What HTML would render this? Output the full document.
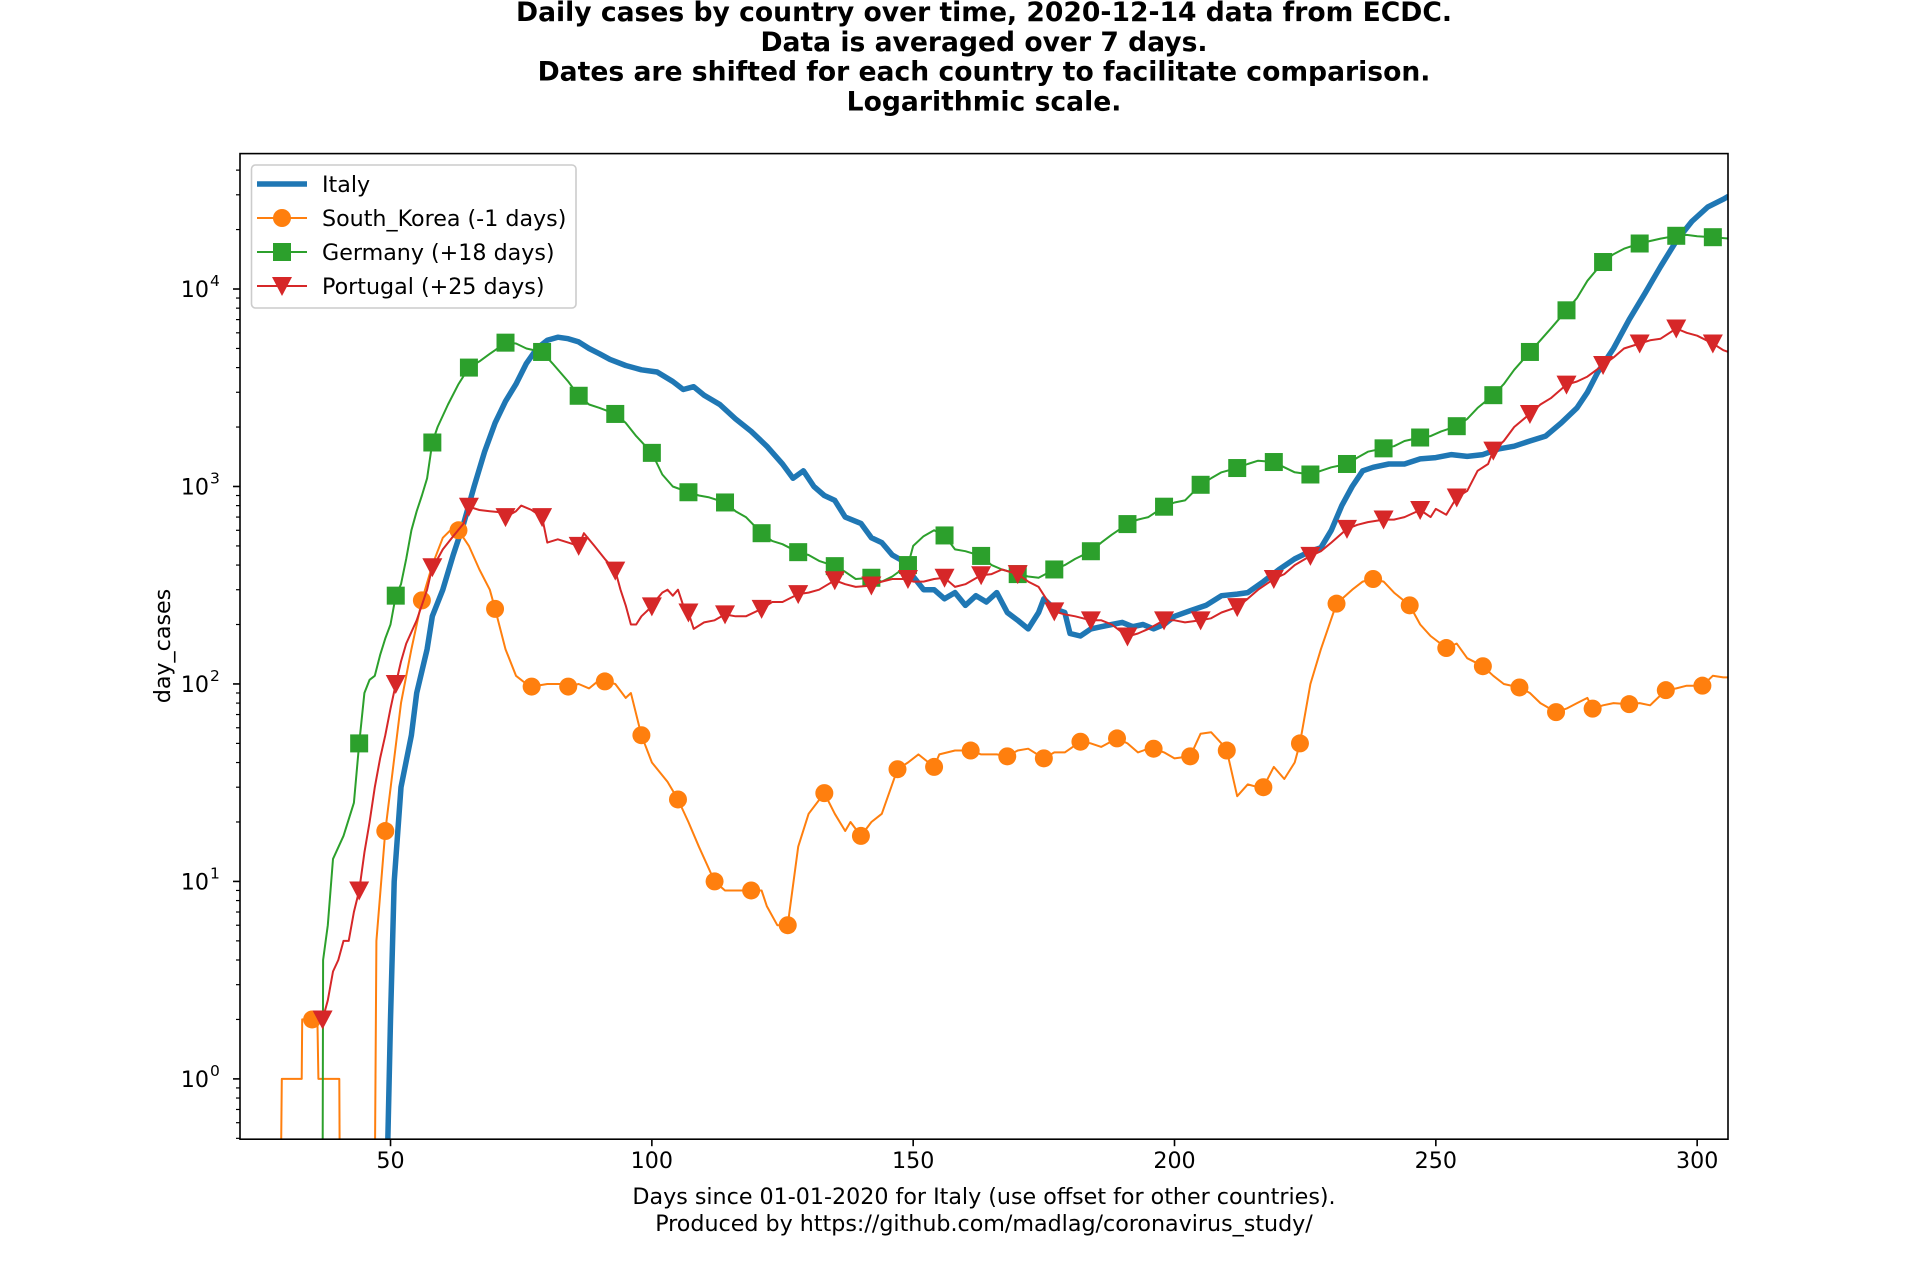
<!DOCTYPE html>
<html><head><meta charset="utf-8">
<style>
html,body{margin:0;padding:0;background:#fff;}
svg{display:block;font-family:"DejaVu Sans","Liberation Sans",sans-serif;}
</style></head>
<body>
<svg id="chart" width="1920" height="1280" viewBox="0 0 1920 1280" xmlns="http://www.w3.org/2000/svg">
<rect x="0" y="0" width="1920" height="1280" fill="#fff"/>
<g font-weight="bold" font-size="26.6" text-anchor="middle" fill="#000">
<text x="984" y="21">Daily cases by country over time, 2020-12-14 data from ECDC.</text>
<text x="984" y="51">Data is averaged over 7 days.</text>
<text x="984" y="80.5">Dates are shifted for each country to facilitate comparison.</text>
<text x="984" y="110.5">Logarithmic scale.</text>
</g>
<defs><clipPath id="plotclip"><rect x="240" y="153.6" width="1488" height="985.6"/></clipPath></defs>
<g id="series" clip-path="url(#plotclip)"></g>
<rect x="240" y="153.6" width="1488" height="985.6" fill="none" stroke="#000" stroke-width="1.6"/>
<g id="axes"></g>
<text x="170" y="646" font-size="22.2" text-anchor="middle" transform="rotate(-90 170 646)">day_cases</text>
<g font-size="22.2" text-anchor="middle">
<text x="984" y="1204">Days since 01-01-2020 for Italy (use offset for other countries).</text>
<text x="984" y="1231">Produced by https://github.com/madlag/coronavirus_study/</text>
</g>
<g id="legend">
<rect x="251.5" y="165" width="324.5" height="143" rx="4" fill="#fff" fill-opacity="0.8" stroke="#ccc" stroke-width="1.6"/>
</g>
</svg>
<script>
const xMin = 21.2, xMax = 305.9, yMin = 0.495, yMax = 48500;
const L = 240, R = 1728, T = 153.6, B = 1139.2;
const xTicks = [50, 100, 150, 200, 250, 300];
const yTickExps = [0, 1, 2, 3, 4];

const italyDays = [49.3,50,50.7,52,54,55,57,58,60,62,64,66,68,70,72,74,76,78,80,82,84,86,88,90,92,95,98,101,104,106,108,110,113,116,119,122,125,127,129,131,133,135,137,140,142,144,146,148,150,152,154,156,158,160,162,164,166,168,170,172,174,175,177,179,180,182,184,186,188,190,192,194,196,198,200,203,206,209,212,214,217,220,223,226,228,230,232,234,236,238,241,244,247,250,253,256,259,262,265,268,271,274,277,279,281,284,287,290,293,296,299,302,305,306];
const italyVals = [0.3,2,10,30,55,90,150,220,300,450,650,1000,1500,2100,2700,3300,4200,5000,5500,5700,5600,5400,5000,4700,4400,4100,3900,3800,3400,3100,3200,2900,2600,2200,1900,1600,1300,1100,1200,1000,900,850,700,650,550,520,450,420,350,300,300,270,290,250,280,260,290,230,210,190,230,270,240,230,180,175,190,195,200,205,195,200,190,200,220,235,250,280,285,290,330,380,430,470,490,600,800,1000,1200,1250,1300,1300,1380,1400,1450,1420,1450,1550,1600,1700,1800,2100,2500,3000,3800,5000,7000,9500,13000,17500,22000,26000,28500,29500];

const koreaDays = [29,29.2,33,33.1,35,36,36.2,40.2,40.3,47,47.3,49,52,54,56,58,60,62,63,65,67,69,70,72,74,76,77,80,83,84,86,88,90,91,93,95,96,98,100,103,105,107,109,112,114,117,119,121,122,124,126,128,130,133,135,137,138,140,142,144,147,149,151,154,155,158,161,163,166,168,170,172,175,177,179,182,184,186,189,191,193,195,196,198,200,203,205,207,209,210,212,214,216,217,219,221,223,224,226,228,231,234,236,238,240,242,245,247,249,252,254,256,259,261,263,266,268,270,273,275,277,279,280,282,284,287,289,291,294,296,298,301,303,305,306];
const koreaVals = [0.3,1,1,2,2,2,1,1,0.3,0.3,5,18,80,150,265,400,550,620,600,500,380,300,240,150,110,100,97,100,100,97,100,95,105,103,100,85,90,55,40,32,26,20,15,10,9,9,9,9,7.5,6,6,15,22,28,22,18,20,17,20,22,37,40,44,38,44,46,46,44,44,43,46,47,42,45,45,51,50,48,53,50,45,47,47,45,42,43,56,57,50,46,27,31,30,30,38,33,40,50,100,150,255,300,330,340,330,290,250,200,175,152,160,135,123,110,100,96,90,80,72,75,80,85,75,78,80,79,80,78,93,95,98,98,110,108,108];

const germanyDays = [37,37.1,38,39,41,43,44,45,46,47,48,49,50,51,52,53,54,55,56,57,58,59,61,63,65,67,69,70,72,74,76,79,81,84,86,88,90,93,95,97,100,102,104,107,109,111,114,116,118,121,123,125,128,130,132,135,137,139,142,144,146,149,150,152,154,156,158,160,163,165,167,170,172,174,177,179,181,184,186,188,191,193,195,198,200,202,205,207,209,212,214,216,219,221,223,226,228,230,233,235,237,240,242,244,247,249,251,254,256,258,261,263,265,268,270,272,275,277,279,282,284,286,289,291,293,296,298,300,303,306];
const germanyVals = [0.3,4,6,13,17,25,50,90,105,110,140,170,200,280,320,430,600,750,900,1100,1670,2000,2600,3300,4000,4300,4700,4900,5350,5300,5000,4800,4200,3400,2880,2600,2500,2330,2100,1800,1480,1150,1000,935,900,880,830,750,700,580,530,510,465,450,420,395,370,340,345,330,350,400,500,560,600,565,480,470,445,400,380,360,350,345,380,400,430,470,520,570,645,680,700,790,830,850,1020,1100,1180,1240,1300,1350,1330,1250,1180,1150,1200,1250,1300,1400,1500,1560,1600,1700,1770,1800,1900,2020,2200,2500,2900,3300,3900,4800,5500,6300,7800,9000,11000,13700,15000,16000,17000,17500,18000,18600,18800,18500,18300,18000];

const portugalDays = [37,38,39,40,41,42,43,44,45,46,47,48,49,50,51,52,53,55,57,58,59,60,62,64,65,67,69,71,72,74,75,77,79,80,82,84,86,87,89,91,93,94,95,96,97,98,100,101,102,103,104,105,106,107,108,110,112,114,116,118,121,123,125,128,130,132,135,137,139,142,144,146,149,150,152,154,156,158,160,163,165,167,170,172,174,177,179,181,184,186,188,191,193,195,198,200,202,205,207,209,212,214,216,219,221,223,226,228,230,233,235,237,240,242,244,247,249,250,252,254,256,258,260,261,263,265,268,270,272,275,277,279,282,284,286,289,291,293,296,298,300,303,305,306];
const portugalVals = [2,2.5,3.5,4,5,5,7,9,14,20,30,42,55,75,100,130,160,210,300,390,430,480,560,650,790,760,750,740,700,750,800,760,700,520,540,520,500,580,500,430,375,300,250,200,200,220,247,270,290,300,280,300,250,230,190,205,210,225,220,220,240,260,260,285,290,300,335,320,310,315,330,340,340,330,330,340,345,310,320,355,360,380,360,330,310,233,225,220,210,210,200,174,180,190,210,210,205,210,215,230,245,270,300,340,360,400,445,470,520,610,640,660,680,680,700,760,700,770,720,880,950,1200,1300,1520,1700,2000,2330,2600,2800,3280,3400,3600,4120,4500,5000,5300,5500,5600,6310,6000,5800,5300,4900,4800];

const NS = 'http://www.w3.org/2000/svg';
function sx(d){ return L + (d - xMin) / (xMax - xMin) * (R - L); }
function sy(v){ const lv = Math.log10(Math.max(v, 1e-3)); return B - (lv - Math.log10(yMin)) / (Math.log10(yMax) - Math.log10(yMin)) * (B - T); }
function mk(tag, attrs, parent){ const e = document.createElementNS(NS, tag); for (const k in attrs) e.setAttribute(k, attrs[k]); parent.appendChild(e); return e; }

const axes = document.getElementById('axes');
for (const t of xTicks) {
  const x = sx(t);
  const tk = mk('line', {x1:x, x2:x, y1:B, y2:B+7, stroke:'#000', 'stroke-width':1.6}, axes);
  
  
  const lb = mk('text', {x:x, y:B+29, 'font-size':22.2, 'text-anchor':'middle'}, axes);
  
  
  lb.textContent = String(t);
}
for (const e of yTickExps) {
  const y = sy(Math.pow(10, e));
  const tk = mk('line', {x1:L-7, x2:L, y1:y, y2:y, stroke:'#000', 'stroke-width':1.6}, axes);
  
  
  const lb = mk('text', {x:L-31, y:y+8, 'font-size':22.2, 'text-anchor':'end'}, axes);
  
  
  lb.textContent = '10';
  const sup = mk('text', {x:L-30, y:y-3, 'font-size':15.5, 'text-anchor':'start'}, axes);
  
  
  sup.textContent = String(e);
}
for (let e = -1; e <= 4; e++) {
  for (let m = 2; m <= 9; m++) {
    const v = m * Math.pow(10, e);
    if (v < yMin || v > yMax) continue;
    const y = sy(v);
    const tk = mk('line', {x1:L-4, x2:L, y1:y, y2:y, stroke:'#000', 'stroke-width':1.2}, axes);
    
    
  }
}

const seriesG = document.getElementById('series');
function pathOf(days, vals){ return days.map((d,i)=> (i?'L':'M') + sx(d).toFixed(1) + ',' + sy(vals[i]).toFixed(1)).join(''); }
function marker(type, x, y, color, parent){
  let el;
  if (type === 'circle') el = mk('circle', {cx:x, cy:y, r:9, fill:color}, parent);
  else if (type === 'square') el = mk('rect', {x:x-9, y:y-9, width:18, height:18, fill:color}, parent);
  else el = mk('path', {d:`M${x-10},${y-9}L${x+10},${y-9}L${x},${y+10}Z`, fill:color}, parent);
  return el;
}
function drawSeries(name, days, vals, color, width, mtype, mstart){
  const g = mk('g', {}, seriesG);
  
  
  const p = mk('path', {d:pathOf(days, vals), fill:'none', stroke:color, 'stroke-width':width, 'stroke-linejoin':'round'}, g);
  
  
  if (!mtype) return;
  days.forEach((d, i) => {
    if (Number.isInteger(d) && (d - mstart) % 7 === 0 && vals[i] >= yMin) {
      const m = marker(mtype, sx(d), sy(vals[i]), color, g);
      
      
    }
  });
}
drawSeries('italy', italyDays, italyVals, '#1f77b4', 5.5, null, 0);
drawSeries('south-korea', koreaDays, koreaVals, '#ff7f0e', 2, 'circle', 35);
drawSeries('germany', germanyDays, germanyVals, '#2ca02c', 2, 'square', 37);
drawSeries('portugal', portugalDays, portugalVals, '#d62728', 2, 'triangle', 37);

const legendNames = ['Italy', 'South_Korea (-1 days)', 'Germany (+18 days)', 'Portugal (+25 days)'];
const legendColors = ['#1f77b4', '#ff7f0e', '#2ca02c', '#d62728'];
const legendMarkers = [null, 'circle', 'square', 'triangle'];
const lg = document.getElementById('legend');
legendNames.forEach((n, i) => {
  const y = 184 + i * 34;
  const g = mk('g', {}, lg);
  
  
  mk('line', {x1:257, x2:307, y1:y, y2:y, stroke:legendColors[i], 'stroke-width': i ? 2 : 5.5}, g);
  if (legendMarkers[i]) marker(legendMarkers[i], 282, y, legendColors[i], g);
  const t = mk('text', {x:322, y:y+8, 'font-size':22.2}, g);
  t.textContent = n;
});
</script>
</body></html>
